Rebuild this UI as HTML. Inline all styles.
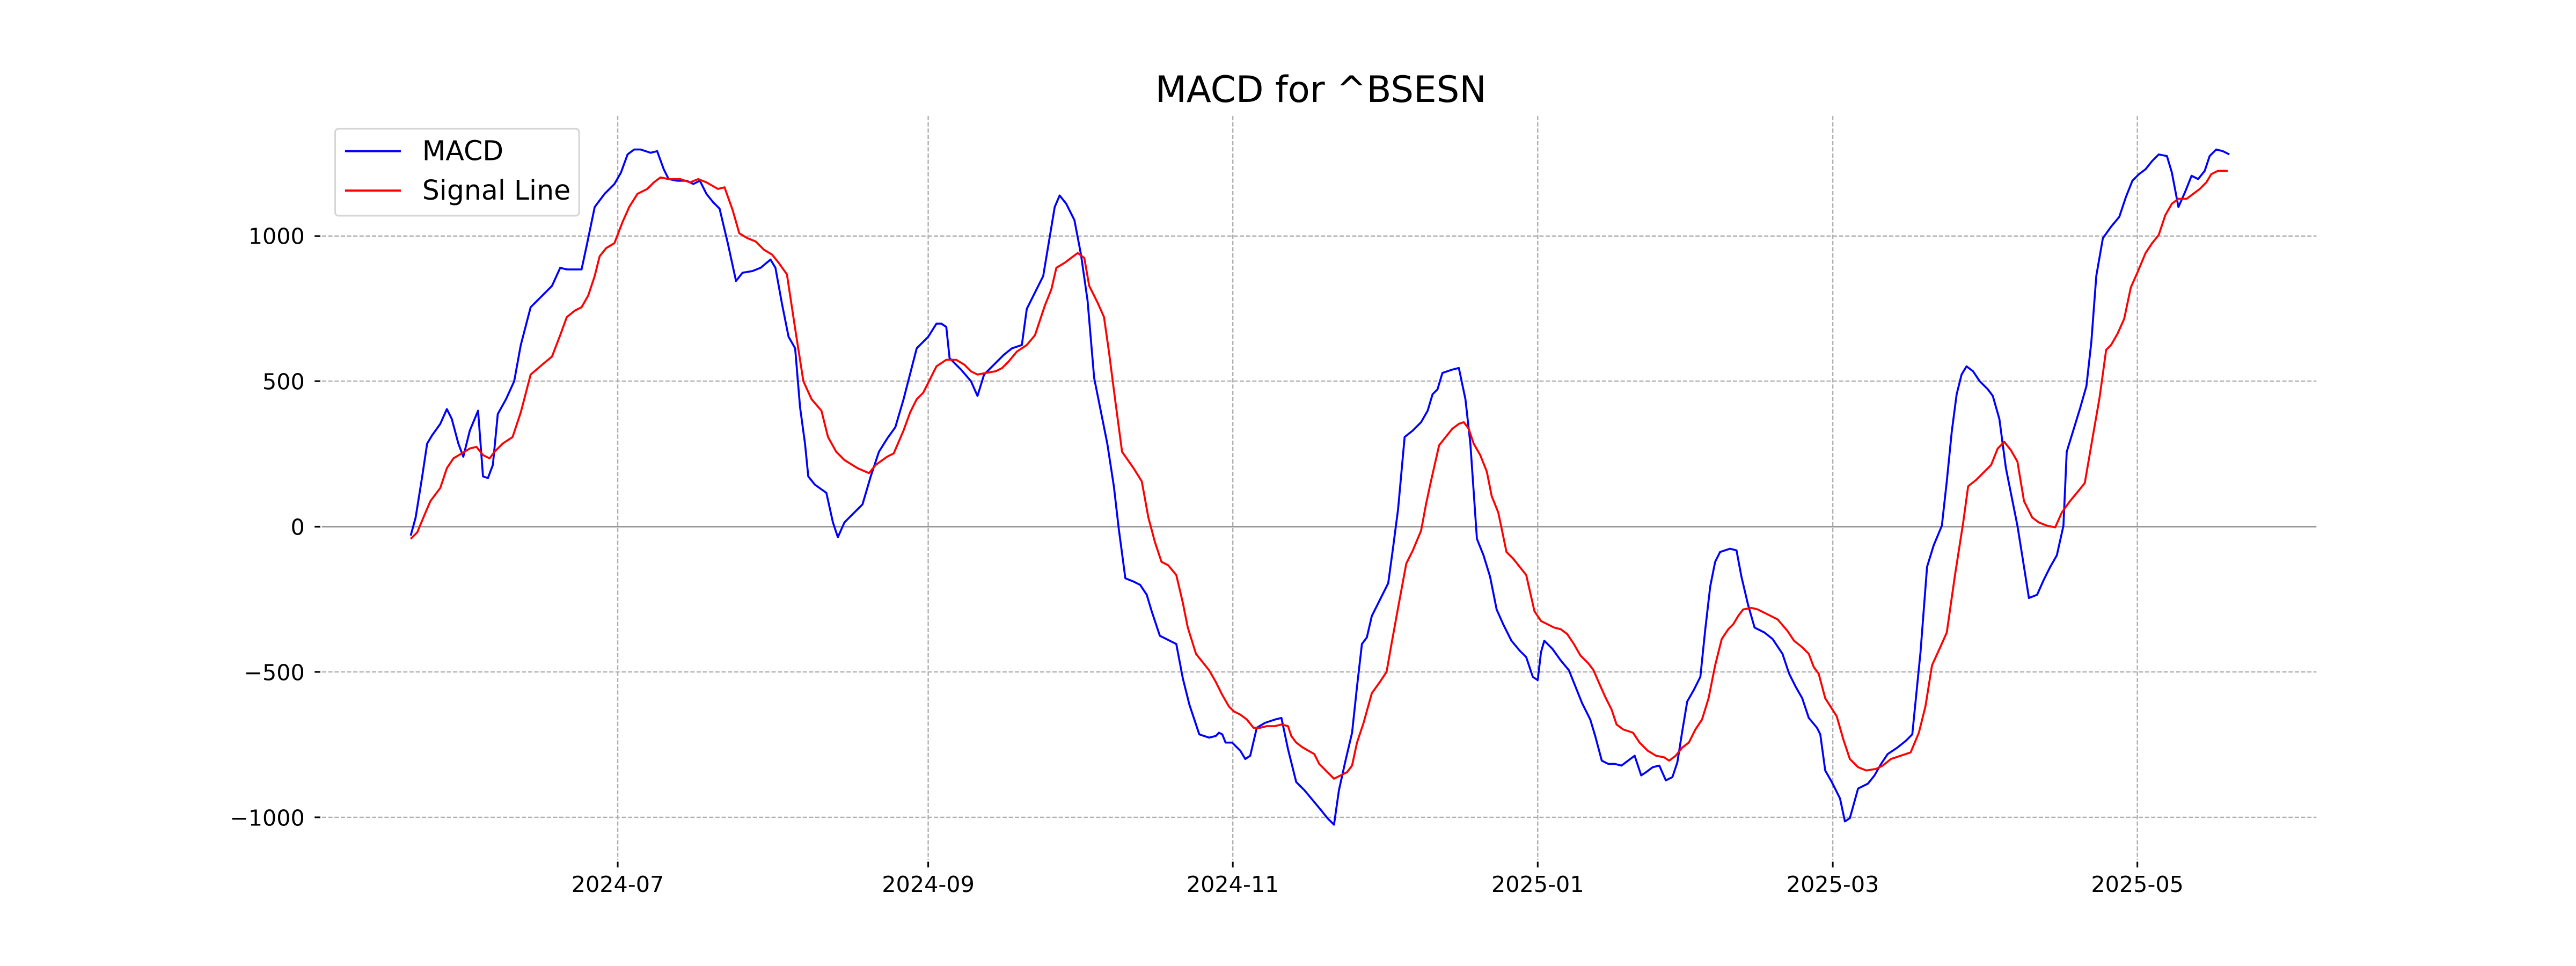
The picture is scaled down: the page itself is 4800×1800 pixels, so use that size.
<!DOCTYPE html>
<html><head><meta charset="utf-8"><style>
html,body{margin:0;padding:0;background:#fff;}
svg{display:block;}
text{font-family:"DejaVu Sans","Liberation Sans",sans-serif;fill:#000;}
</style></head><body>
<svg width="4800" height="1800" viewBox="0 0 1568 588" preserveAspectRatio="none" xmlns="http://www.w3.org/2000/svg">
<rect width="1568" height="588" fill="#fff"/>
<text x="804" y="62" font-size="22" text-anchor="middle">MACD for ^BSESN</text>
<g stroke="#b0b0b0" stroke-width="0.8" stroke-dasharray="2.6,1.2" fill="none">
<line x1="196" y1="143.7" x2="1410" y2="143.7"/>
<line x1="196" y1="232" x2="1410" y2="232"/>
<line x1="196" y1="409" x2="1410" y2="409"/>
<line x1="196" y1="497.5" x2="1410" y2="497.5"/>
<line x1="376" y1="70.6" x2="376" y2="523.5"/>
<line x1="565" y1="70.6" x2="565" y2="523.5"/>
<line x1="750.4" y1="70.6" x2="750.4" y2="523.5"/>
<line x1="936" y1="70.6" x2="936" y2="523.5"/>
<line x1="1115.6" y1="70.6" x2="1115.6" y2="523.5"/>
<line x1="1301" y1="70.6" x2="1301" y2="523.5"/>
</g>
<line x1="196" y1="320.6" x2="1410" y2="320.6" stroke="#999" stroke-width="0.9"/>
<g stroke="#000" stroke-width="1">
<line x1="191.5" y1="143.7" x2="195" y2="143.7"/>
<line x1="191.5" y1="232" x2="195" y2="232"/>
<line x1="191.5" y1="320.6" x2="195" y2="320.6"/>
<line x1="191.5" y1="409" x2="195" y2="409"/>
<line x1="191.5" y1="497.5" x2="195" y2="497.5"/>
<line x1="376" y1="524.5" x2="376" y2="528"/>
<line x1="565" y1="524.5" x2="565" y2="528"/>
<line x1="750.4" y1="524.5" x2="750.4" y2="528"/>
<line x1="936" y1="524.5" x2="936" y2="528"/>
<line x1="1115.6" y1="524.5" x2="1115.6" y2="528"/>
<line x1="1301" y1="524.5" x2="1301" y2="528"/>
</g>
<g font-size="13.5" text-anchor="end">
<text x="185.5" y="148.5">1000</text>
<text x="185.5" y="237">500</text>
<text x="185.5" y="325.5">0</text>
<text x="185.5" y="414">−500</text>
<text x="185.5" y="502.5">−1000</text>
</g>
<g font-size="13.5" text-anchor="middle">
<text x="376" y="543">2024-07</text>
<text x="565" y="543">2024-09</text>
<text x="750.4" y="543">2024-11</text>
<text x="936" y="543">2025-01</text>
<text x="1115.6" y="543">2025-03</text>
<text x="1301" y="543">2025-05</text>
</g>
<polyline fill="none" stroke="#0000ff" stroke-width="1.2" stroke-linejoin="round" points="250,326 253,315 257,290 260,270 263,265 268,258 272,249 275,255 279,270 282,278 286,262 291,250 294,290 297,291 300,283 303,252 308,243 313,232 317,210 323,187 330,180 336,174 341,163 345,164 350,164 354,164 357,150 362,126 368,118 374,112 378,105 382,94 386,91 390,91 396,93 400,92 404,103 407,109 412,110 418,110 422,112 426,110 430,118 434,123 438,127 443,148 448,171 452,166 458,165 463,163 469,158 472,163 476,185 480,205 484,212 487,248 490,270 492,290 496,295 503,300 507,318 510,327 514,318 520,312 525,307 530,290 535,275 540,267 545,260 550,243 558,212 565,205 570,197 573,197 576,199 578,218 585,225 591,232 595,241 599,228 605,222 611,216 616,212 622,210 625,188 630,178 635,168 638,150 642,126 645,119 649,124 654,134 658,155 662,183 666,230 670,250 674,270 678,296 681,322 685,352 690,354 694,356 698,362 701,372 706,387 712,390 716,392 720,413 724,429 730,447 736,449 740,448 742,446 744,447 746,452 750,452 755,457 758,462 761,460 765,443 770,440 776,438 780,437 784,456 789,476 794,481 799,487 804,493 808,498 812,502 815,481 819,463 823,446 826,418 829,392 832,388 835,375 840,365 845,355 848,333 851,310 855,266 860,262 865,257 869,250 872,240 875,237 878,227 884,225 888,224 892,243 895,270 899,328 903,338 907,351 911,371 915,380 920,390 925,396 929,400 933,412 936,414 938,397 940,390 945,395 950,402 955,408 959,418 963,428 968,438 971,448 975,463 979,465 983,465 987,466 991,463 995,460 999,472 1002,470 1006,467 1010,466 1014,475 1018,473 1021,464 1024,445 1027,427 1031,420 1035,412 1038,383 1041,357 1044,342 1047,336 1050,335 1053,334 1057,335 1060,351 1064,368 1068,382 1074,385 1079,389 1085,398 1089,410 1093,418 1097,425 1101,437 1106,443 1108,447 1111,469 1115,476 1120,486 1123,500 1126,498 1131,480 1137,477 1141,472 1145,465 1149,459 1155,455 1160,451 1164,447 1169,397 1173,345 1177,332 1182,320 1185,293 1188,263 1191,240 1194,228 1197,223 1201,226 1205,232 1210,237 1213,241 1217,255 1221,285 1225,305 1228,320 1232,345 1235,364 1240,362 1244,353 1248,345 1252,338 1256,320 1258,275 1262,262 1266,249 1270,235 1273,208 1276,168 1280,145 1285,138 1290,132 1294,120 1298,110 1302,106 1306,103 1310,98 1314,94 1319,95 1322,105 1326,126 1330,117 1334,107 1338,109 1342,104 1345,95 1349,91 1353,92 1357,94"/>
<polyline fill="none" stroke="#ff0000" stroke-width="1.2" stroke-linejoin="round" points="250,328 254,324 259,312 262,305 268,297 272,285 276,279 281,276 286,273 290,272 294,277 298,279 301,275 306,270 312,266 317,251 323,228 330,222 336,217 341,204 345,193 350,189 354,187 358,180 362,168 365,156 369,151 374,148 379,135 383,126 388,118 394,115 398,111 402,108 407,109 414,109 420,111 425,109 430,111 437,115 441,114 446,128 450,142 455,145 460,147 465,152 470,155 474,160 479,167 484,200 489,232 494,243 500,250 504,266 509,275 514,280 522,285 529,288 533,283 540,278 544,276 550,262 554,251 558,243 562,239 566,231 570,223 576,219 582,219 587,222 591,226 595,228 600,227 606,226 610,224 614,220 619,214 625,210 630,204 636,186 640,176 643,163 648,160 652,157 656,154 660,157 663,174 668,184 672,193 675,214 679,245 683,275 690,285 695,293 699,315 703,330 707,342 711,344 716,350 720,367 723,382 728,398 732,403 736,408 740,415 744,423 748,430 751,433 755,435 759,438 763,443 767,443 771,442 776,442 780,441 784,442 786,448 789,452 793,455 800,459 803,465 808,470 812,474 816,472 820,470 823,466 826,452 830,440 835,422 840,415 844,409 847,392 851,370 856,343 860,335 865,323 868,307 871,293 876,271 880,266 884,261 888,258 891,257 894,261 897,270 901,277 905,287 908,302 912,312 917,336 921,340 925,345 929,350 934,372 938,378 942,380 946,382 950,383 954,386 958,392 962,399 967,404 970,408 973,415 977,424 981,432 984,441 988,444 994,446 998,452 1003,457 1008,460 1013,461 1016,463 1020,460 1024,455 1028,452 1032,444 1036,438 1040,425 1044,405 1048,389 1052,383 1055,380 1058,375 1061,371 1066,370 1070,371 1076,374 1082,377 1088,384 1092,390 1097,394 1101,398 1104,406 1107,410 1111,425 1118,436 1122,450 1126,462 1131,467 1136,469 1142,468 1146,466 1151,462 1157,460 1163,458 1168,446 1172,430 1176,405 1181,394 1185,385 1190,350 1195,318 1198,296 1203,292 1208,287 1212,283 1216,273 1220,269 1224,274 1228,281 1232,305 1237,315 1241,318 1246,320 1251,321 1255,312 1260,305 1265,299 1269,294 1274,265 1278,242 1282,213 1285,210 1289,203 1293,194 1297,175 1301,166 1306,154 1310,148 1314,143 1318,131 1322,124 1326,121 1331,121 1335,118 1339,115 1343,111 1346,106 1350,104 1356,104"/>
<rect x="204" y="78.4" width="148.5" height="52.9" rx="2" ry="2" fill="#fff" fill-opacity="0.8" stroke="#d5d5d5" stroke-width="1"/>
<line x1="210" y1="92" x2="244" y2="92" stroke="#0000ff" stroke-width="1.3"/>
<line x1="210" y1="116" x2="244" y2="116" stroke="#ff0000" stroke-width="1.3"/>
<text x="257" y="97.5" font-size="16.5">MACD</text>
<text x="257" y="121.5" font-size="16.5">Signal Line</text>
</svg>
</body></html>
